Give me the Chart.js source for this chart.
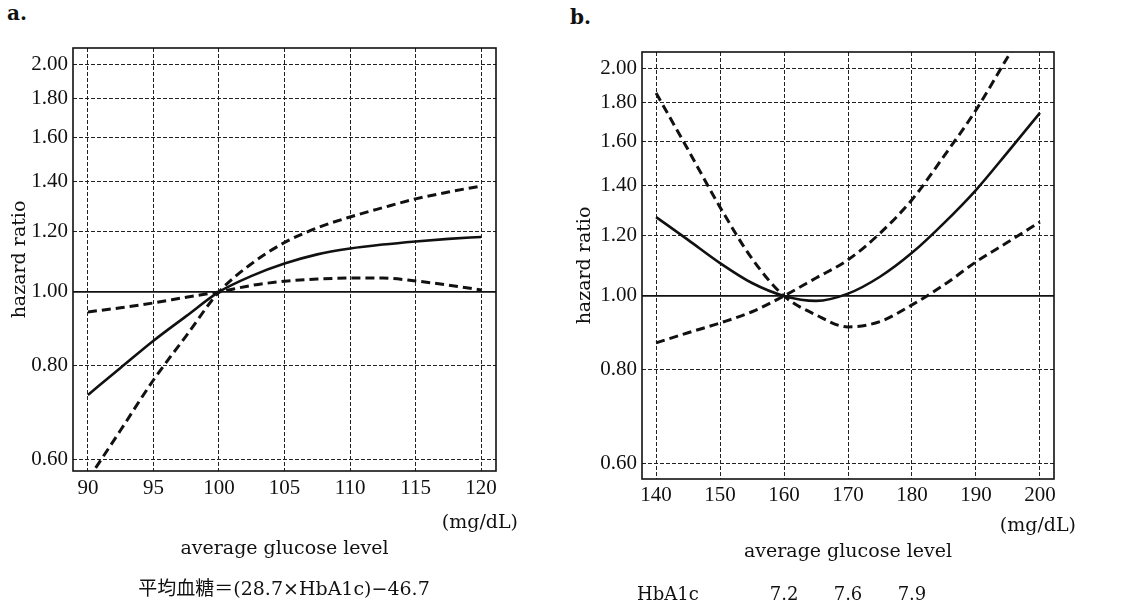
<!DOCTYPE html>
<html>
<head>
<meta charset="utf-8">
<script src="https://cdn.jsdelivr.net/npm/chart.js@4.4.1/dist/chart.umd.min.js"></script>
<style>
  html, body { margin: 0; padding: 0; background: #fff; }
  body { width: 1131px; height: 606px; position: relative; overflow: hidden; color: #111; font-family: 'DejaVu Serif', serif; }
  .panel { position: absolute; top: 0; }
  #panelA { left: 0; }
  #panelB { left: 560px; }
  .tag { position: absolute; font: bold 20px/20px 'DejaVu Serif', serif; }
  #formula { position: absolute; left: 0; width: 568px; top: 577px; text-align: center;
             font: 19px/22px 'DejaVu Serif', 'Noto Sans CJK JP', serif; }
</style>
</head>
<body>
<div class="tag" style="left:7px; top:3px;">a.</div>
<div class="tag" style="left:570px; top:7px;">b.</div>
<canvas id="panelA" class="panel" width="560" height="606"></canvas>
<canvas id="panelB" class="panel" width="571" height="606"></canvas>
<div id="formula">平均血糖＝(28.7×HbA1c)−46.7</div>
<script>
// hazard ratio ticks shared by both panels (log axis)
const hrTicks = [0.6, 0.8, 1.0, 1.2, 1.4, 1.6, 1.8, 2.0];

// panel a: average glucose 90-120 mg/dL
const glucoseA = [90, 92.5, 95, 97.5, 100, 102.5, 105, 107.5, 110, 112.5, 115, 117.5, 120];
const hrA      = [0.731, 0.794, 0.862, 0.929, 1.0, 1.050, 1.090, 1.121, 1.141, 1.155, 1.166, 1.175, 1.182];
const ciHighA  = [0.565, 0.657, 0.765, 0.875, 1.0, 1.090, 1.162, 1.215, 1.256, 1.292, 1.327, 1.355, 1.380];
const ciLowA   = [0.941, 0.953, 0.967, 0.984, 1.0, 1.020, 1.033, 1.040, 1.043, 1.043, 1.034, 1.021, 1.006];
const ticksA   = [90, 95, 100, 105, 110, 115, 120];

// panel b: average glucose 140-200 mg/dL
const glucoseB = [140, 145, 150, 155, 160, 165, 170, 175, 180, 185, 190, 195, 200];
const hrB      = [1.271, 1.186, 1.105, 1.040, 1.0, 0.985, 1.007, 1.060, 1.140, 1.248, 1.380, 1.550, 1.745];
const ciOneB   = [1.854, 1.560, 1.310, 1.120, 1.0, 0.944, 0.910, 0.925, 0.973, 1.034, 1.109, 1.178, 1.252];
const ciTwoB   = [0.867, 0.894, 0.921, 0.953, 1.0, 1.056, 1.116, 1.210, 1.340, 1.530, 1.760, 2.070, 2.420];
const ticksB   = [140, 150, 160, 170, 180, 190, 200];

// HbA1c equivalents printed under panel b
const hba1cText = ['7.2', '7.6', '7.9'];
const hba1cAt   = [160, 170, 180];

const ink = '#111';
const tickFont = { family: "'Liberation Serif', serif", size: 21 };
const titleFont = { family: "'DejaVu Serif', serif", size: 19 };

const toPoints = (xs, ys) => xs.map((x, i) => ({ x: x, y: ys[i] }));

// frame box + extra labels drawn on the canvas
const framePlugin = {
  id: 'frame',
  afterDraw(chart, args, opts) {
    const { ctx, chartArea: a } = chart;
    ctx.save();
    ctx.strokeStyle = ink;
    ctx.lineWidth = 1.6;
    ctx.strokeRect(a.left, a.top, a.right - a.left, a.bottom - a.top);
    ctx.fillStyle = ink;
    ctx.font = "19px 'DejaVu Serif', serif";
    ctx.textBaseline = 'middle';
    ctx.textAlign = 'right';
    ctx.fillText('(mg/dL)', a.right + 22, opts.unitY);
    if (opts.hba1c) {
      const xScale = chart.scales.x;
      ctx.font = "18px 'DejaVu Serif', serif";
      ctx.textAlign = 'left';
      ctx.fillText('HbA1c', a.left - 5, 595);
      ctx.textAlign = 'center';
      hba1cText.forEach((t, i) => {
        ctx.fillText(t, xScale.getPixelForValue(hba1cAt[i]), 595);
      });
    }
    ctx.restore();
  }
};

const curve = (data, dashed) => ({
  data: data,
  borderColor: ink,
  borderWidth: dashed ? 3 : 2.6,
  borderDash: dashed ? [9, 5] : [],
  pointRadius: 0,
  cubicInterpolationMode: 'monotone',
  clip: 0
});

const makePanel = (id, cfg) => {
  const ctx = document.getElementById(id).getContext('2d');
  return new Chart(ctx, {
    type: 'line',
    data: {
      datasets: [
        { data: [{ x: cfg.xMin, y: 1 }, { x: cfg.xMax, y: 1 }], borderColor: ink, borderWidth: 1.8, pointRadius: 0, clip: 0 },
        curve(toPoints(cfg.xs, cfg.hr), false),
        curve(toPoints(cfg.xs, cfg.ciA), true),
        curve(toPoints(cfg.xs, cfg.ciB), true)
      ]
    },
    options: {
      responsive: false,
      animation: false,
      layout: { padding: { top: cfg.top, right: cfg.right, left: 0, bottom: 0 } },
      plugins: {
        legend: { display: false },
        tooltip: { enabled: false },
        frame: { unitY: cfg.unitY, hba1c: cfg.hba1c }
      },
      scales: {
        x: {
          type: 'linear',
          min: cfg.xMin,
          max: cfg.xMax,
          afterBuildTicks: s => { s.ticks = cfg.ticks.map(v => ({ value: v })); },
          afterFit: s => { s.height = cfg.xHeight; },
          ticks: { color: ink, font: tickFont, padding: cfg.xPad, maxRotation: 0, callback: v => String(v) },
          grid: { color: '#222', lineWidth: 1, drawTicks: false },
          border: { display: false, dash: [4, 2] },
          title: { display: true, text: 'average glucose level', color: ink, font: titleFont,
                   padding: { top: 0, bottom: cfg.titleBottom } }
        },
        y: {
          type: 'logarithmic',
          min: cfg.yMin,
          max: 2.1,
          afterBuildTicks: s => { s.ticks = hrTicks.map(v => ({ value: v })); },
          afterFit: s => { s.width = cfg.yWidth; },
          ticks: { color: ink, font: tickFont, padding: 5, callback: v => Number(v).toFixed(2) },
          grid: { color: '#222', lineWidth: 1, drawTicks: false },
          border: { display: false, dash: [4, 2] },
          title: { display: true, text: 'hazard ratio', color: ink, font: titleFont,
                   padding: { top: cfg.yTitlePad, bottom: 0 } }
        }
      }
    },
    plugins: [framePlugin]
  });
};

makePanel('panelA', {
  xs: glucoseA, hr: hrA, ciA: ciHighA, ciB: ciLowA, ticks: ticksA,
  xMin: 88.86, xMax: 121.14, yMin: 0.58,
  top: 48, right: 64, yWidth: 73, xHeight: 135, xPad: 5,
  titleBottom: 45.6, yTitlePad: 8.6, unitY: 523, hba1c: false
});

makePanel('panelB', {
  xs: glucoseB, hr: hrB, ciA: ciOneB, ciB: ciTwoB, ticks: ticksB,
  xMin: 137.8, xMax: 202.2, yMin: 0.573,
  top: 52, right: 77, yWidth: 82, xHeight: 127, xPad: 4,
  titleBottom: 42.6, yTitlePad: 13.6, unitY: 526, hba1c: true
});
</script>
</body>
</html>
